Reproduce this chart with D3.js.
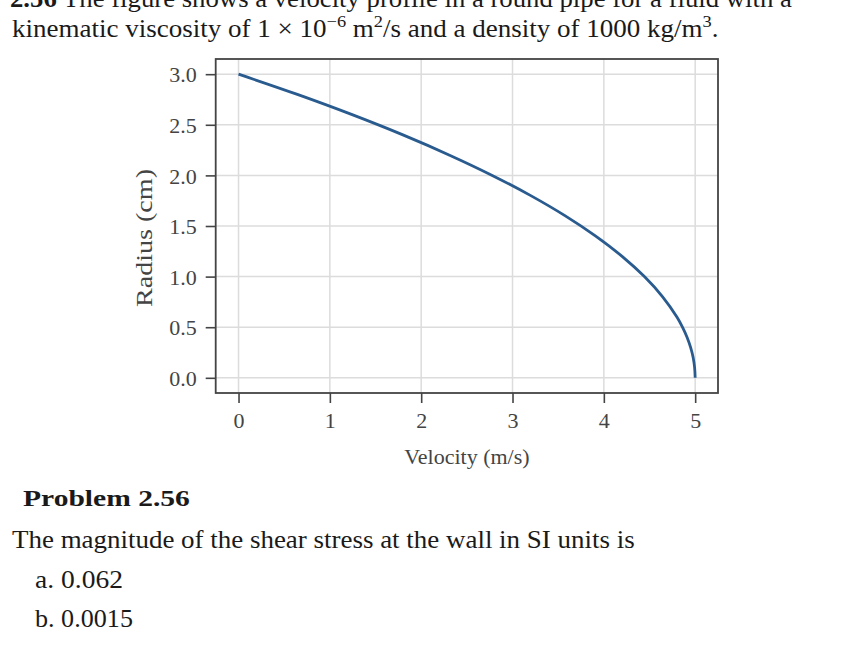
<!DOCTYPE html>
<html>
<head>
<meta charset="utf-8">
<script src="https://cdn.jsdelivr.net/npm/d3@7"></script>
<style>
  html, body { margin: 0; padding: 0; background: #fff; }
  svg { display: block; }
</style>
</head>
<body>
<svg id="chart" width="861" height="650"></svg>
<script>
// ---- data ----
const radius   = [0, 0.1, 0.2, 0.3, 0.4, 0.5, 0.6, 0.8, 1.0, 1.2, 1.4, 1.6, 1.8, 2.0, 2.2, 2.4, 2.6, 2.8, 3.0];
const velocity = [5, 4.994, 4.978, 4.95, 4.911, 4.861, 4.8, 4.644, 4.444, 4.2, 3.911, 3.578, 3.2, 2.778, 2.311, 1.8, 1.244, 0.644, 0];
const xTicks = [0, 1, 2, 3, 4, 5];
const yTicks = [0, 0.5, 1.0, 1.5, 2.0, 2.5, 3.0];
const xLabel = "Velocity (m/s)";
const yLabel = "Radius (cm)";

const svg = d3.select("#chart");
const serif = "'Liberation Serif', 'Times New Roman', serif";

// ---- helper: place text scaled horizontally to target width ----
function fitText(parent, x0, baseline, targetW, size, weight, build, fill) {
  const g = parent.append("g").attr("transform", `translate(${x0},${baseline})`);
  const t = g.append("text").attr("x", 0).attr("y", 0)
    .style("font-family", serif).style("font-size", size + "px")
    .style("font-weight", weight).attr("fill", fill || "#1a1a1a");
  build(t);
  const w = t.node().getBBox().width || targetW;
  t.attr("transform", `scale(${targetW / w},1)`);
  return { g, t };
}

// ---- surrounding text ----
fitText(svg, 10, 7, 782, 25, "normal", t => {
  t.append("tspan").style("font-weight", "bold").text("2.56");
  t.append("tspan").text(" The figure shows a velocity profile in a round pipe for a fluid with a");
});
fitText(svg, 12, 37, 707, 25, "normal", t => {
  t.append("tspan").text("kinematic viscosity of 1 \u00d7 10");
  t.append("tspan").attr("dy", -10).style("font-size", "17px").text("\u22126");
  t.append("tspan").attr("dy", 10).text(" m");
  t.append("tspan").attr("dy", -10).style("font-size", "17px").text("2");
  t.append("tspan").attr("dy", 10).text("/s and a density of 1000 kg/m");
  t.append("tspan").attr("dy", -10).style("font-size", "17px").text("3");
  t.append("tspan").attr("dy", 10).text(".");
});
fitText(svg, 23, 506, 167, 23, "bold", t => t.text("Problem 2.56"));
fitText(svg, 12, 548, 623, 25, "normal", t => t.text("The magnitude of the shear stress at the wall in SI units is"));
fitText(svg, 35, 588, 88, 25, "normal", t => t.text("a. 0.062"));
fitText(svg, 35, 627, 98, 25, "normal", t => t.text("b. 0.0015"));

// ---- chart ----
const L = 215.7, R = 718, T = 59, B = 393;
const x = d3.scaleLinear().domain([-0.25, 5.25]).range([L, R]);
const y = d3.scaleLinear().domain([-0.15, 3.15]).range([B, T]);

// grid
const grid = svg.append("g");
grid.selectAll("line.v").data(xTicks).join("line")
  .attr("x1", d => x(d)).attr("x2", d => x(d)).attr("y1", T).attr("y2", B)
  .attr("stroke", "#dcdcdc").attr("stroke-width", 1.5);
grid.selectAll("line.h").data(yTicks).join("line")
  .attr("y1", d => y(d)).attr("y2", d => y(d)).attr("x1", L).attr("x2", R)
  .attr("stroke", "#dcdcdc").attr("stroke-width", 1.5);

// curve
const pts = radius.map((r, i) => ({ r, u: velocity[i] }));
svg.append("path").datum(pts)
  .attr("d", d3.line().x(d => x(d.u)).y(d => y(d.r)).curve(d3.curveCatmullRom))
  .attr("fill", "none").attr("stroke", "#2a5b8f").attr("stroke-width", 2.8);

// frame
svg.append("rect").attr("x", L).attr("y", T).attr("width", R - L).attr("height", B - T)
  .attr("fill", "none").attr("stroke", "#444").attr("stroke-width", 1.8);

// axes
const xAxis = svg.append("g").attr("transform", `translate(0,${B})`)
  .call(d3.axisBottom(x).tickValues(xTicks).tickFormat(d3.format("d")).tickSize(10).tickPadding(9));
const yAxis = svg.append("g").attr("transform", `translate(${L},0)`)
  .call(d3.axisLeft(y).tickValues(yTicks).tickFormat(d3.format(".1f")).tickSize(10).tickPadding(9));
[xAxis, yAxis].forEach(a => {
  a.select(".domain").remove();
  a.selectAll(".tick line").attr("stroke", "#444").attr("stroke-width", 1.6);
  a.selectAll(".tick text").style("font-family", serif).style("font-size", "22px").attr("fill", "#444");
});
yAxis.selectAll(".tick text").attr("dy", "0.35em");

// axis titles
svg.append("text").attr("x", 467).attr("y", 464).attr("text-anchor", "middle")
  .style("font-family", serif).style("font-size", "22px").attr("fill", "#444").text(xLabel);
const yl = svg.append("g").attr("transform", "translate(152,238) rotate(-90)");
const ylt = yl.append("text").attr("text-anchor", "middle")
  .style("font-family", serif).style("font-size", "23px").attr("fill", "#444").text(yLabel);
const ylw = ylt.node().getBBox().width || 138;
ylt.attr("transform", `scale(${138 / ylw},1)`);
</script>
</body>
</html>
